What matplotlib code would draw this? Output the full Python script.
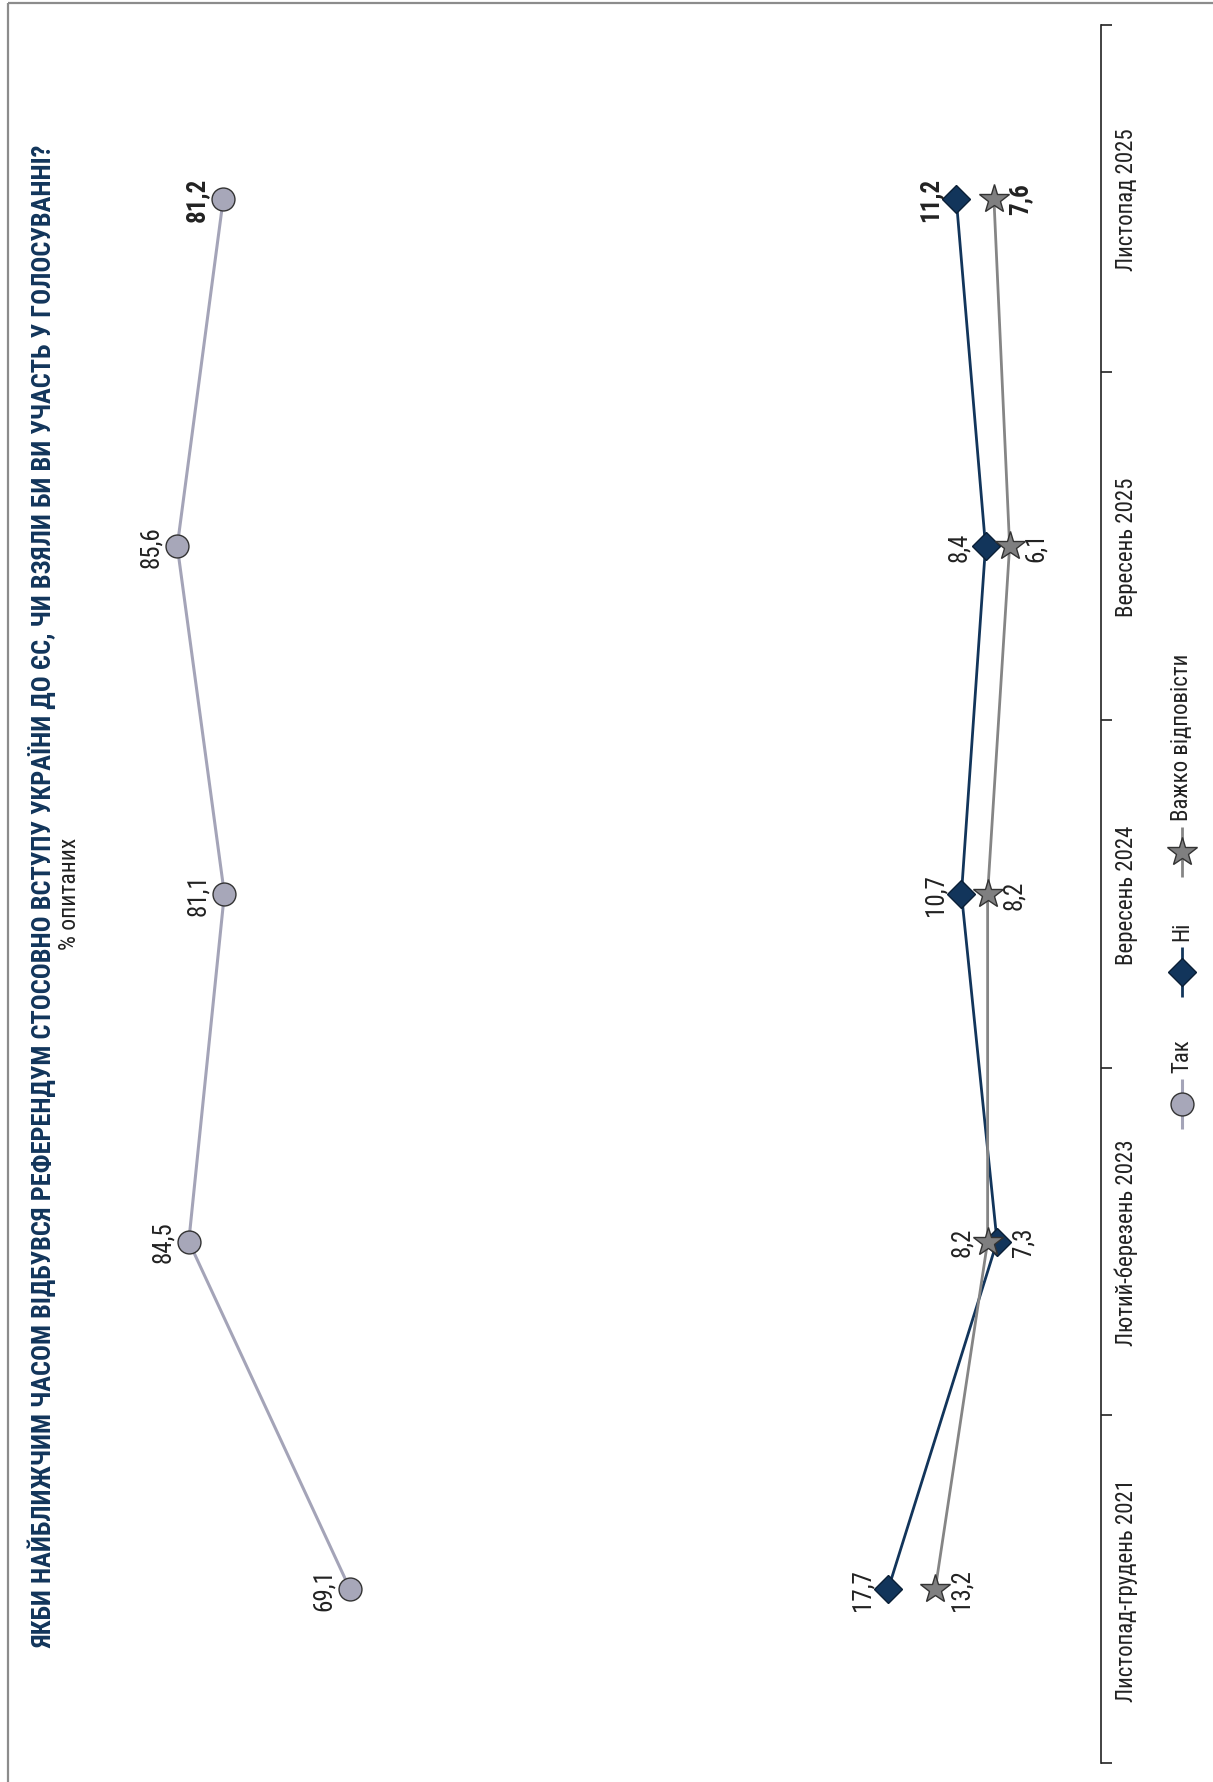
import matplotlib
matplotlib.use("Agg")
import matplotlib.pyplot as plt
import numpy as np
from matplotlib import font_manager
from matplotlib.patches import Rectangle

# ---- data -------------------------------------------------------------
categories = [
    "Листопад-грудень 2021",
    "Лютий-березень 2023",
    "Вересень 2024",
    "Вересень 2025",
    "Листопад 2025",
]
series_names = ["Так", "Ні", "Важко відповісти"]
tak = [69.1, 84.5, 81.1, 85.6, 81.2]
ni = [17.7, 7.3, 10.7, 8.4, 11.2]
vazhko = [13.2, 8.2, 8.2, 6.1, 7.6]

title = ("ЯКБИ НАЙБЛИЖЧИМ ЧАСОМ ВІДБУВСЯ РЕФЕРЕНДУМ СТОСОВНО ВСТУПУ УКРАЇНИ ДО ЄС, "
         "ЧИ ВЗЯЛИ БИ ВИ УЧАСТЬ У ГОЛОСУВАННІ?")
subtitle = "% опитаних"

# ---- fonts ------------------------------------------------------------
installed = {f.name for f in font_manager.fontManager.ttflist}
FONT = "DejaVu Sans"
for cand in ["Liberation Sans Narrow", "Roboto Condensed", "Liberation Sans", "Roboto"]:
    if cand in installed:
        FONT = cand
        break
plt.rcParams["font.family"] = [FONT, "DejaVu Sans"]

NAVY = "#12355b"
TAK_LINE = "#a4a4b8"
TAK_FILL = "#a7a7b9"
GREY = "#858585"
TXT = "#222222"

W, H = 1213, 1783
fig = plt.figure(figsize=(W / 100, H / 100), dpi=100)

# page overlay in pixel coords (frame, legend)
over = fig.add_axes([0, 0, 1, 1], zorder=5)
over.set_xlim(0, W)
over.set_ylim(H, 0)
over.axis("off")
over.patch.set_alpha(0)
over.add_patch(Rectangle((8, 4), W + 20, H + 20, fill=False, edgecolor="#8c8c8c",
                         linewidth=1.6, clip_on=False))

# main axes: values run right-to-left, categories bottom-to-top
ax = fig.add_axes([0.0, 0.01066, 1100.7 / W, 0.97493])
ax.set_xlim(102.53, -2.6)
ax.set_ylim(-0.5, len(categories) - 0.5)
ax.patch.set_alpha(0)
for side in ["left", "top", "bottom"]:
    ax.spines[side].set_visible(False)
ax.spines["right"].set_color("#222222")
ax.spines["right"].set_linewidth(1.2)
ax.set_xticks([])
ax.yaxis.tick_right()
ax.set_yticks(np.arange(-0.5, len(categories)))
ax.set_yticklabels([])
ax.tick_params(axis="y", which="major", direction="out", length=8, width=1.2, color="#222222")
ax.set_yticks(np.arange(len(categories)), minor=True)
ax.set_yticklabels(categories, minor=True, rotation=90, va="center", fontsize=16.5, color=TXT)
ax.tick_params(axis="y", which="minor", length=0, pad=10)

pos = np.arange(len(categories))

styles = {
    "Так": dict(color=TAK_LINE, lw=2.2, marker="o", ms=16.5, mfc=TAK_FILL, mec="#333333", mew=1.0),
    "Ні": dict(color=NAVY, lw=2.0, marker="D", ms=14, mfc=NAVY, mec="#0a1f36", mew=1.0),
    "Важко відповісти": dict(color=GREY, lw=2.0, marker="*", ms=22, mfc="#7f7f80", mec="#333333", mew=1.0),
}
values = {"Так": tak, "Ні": ni, "Важко відповісти": vazhko}
# which side of the marker the value label sits on (-1 = left, +1 = right)
label_side = {
    "Так": [-1, -1, -1, -1, -1],
    "Ні": [-1, 1, -1, -1, -1],
    "Важко відповісти": [1, -1, 1, 1, 1],
}

for name in ["Так", "Ні", "Важко відповісти"]:
    vals = values[name]
    ax.plot(vals, pos, clip_on=False, zorder=3, **styles[name])
    for i, (v, p) in enumerate(zip(vals, pos)):
        bold = i == len(vals) - 1
        ax.annotate(f"{v:.1f}".replace(".", ","), (v, p),
                    xytext=(label_side[name][i] * 26, 0), textcoords="offset pixels",
                    rotation=90, ha="center", va="center", fontsize=18,
                    fontweight="bold" if bold else "normal", color=TXT, zorder=4)

# title + subtitle (rotated page)
t = fig.text(42 / W, 1 - 896 / H, title, rotation=90, ha="center", va="center",
             fontsize=22, fontweight="bold", color=NAVY)
fig.text(70 / W, 1 - 894 / H, subtitle, rotation=90, ha="center", va="center",
         fontsize=17, color=TXT)

# legend drawn by hand (rotated)
legend_y = [1105, 973, 853]
for name, y in zip(series_names, legend_y):
    st = styles[name]
    over.plot([1182, 1182], [y - 25, y + 25], color=st["color"], lw=st["lw"], solid_capstyle="butt")
    over.plot([1182], [y], marker=st["marker"], ms=st["ms"], mfc=st["mfc"], mec=st["mec"],
              mew=st["mew"], linestyle="none")
    over.text(1182, y - 32, name, rotation=90, ha="center", va="bottom", fontsize=16.5, color=TXT)

# fit title length to the page
fig.canvas.draw()
bb = t.get_window_extent()
t.set_fontsize(22 * 1498 / bb.height)

fig.savefig("out.png", dpi=100, facecolor="white")
